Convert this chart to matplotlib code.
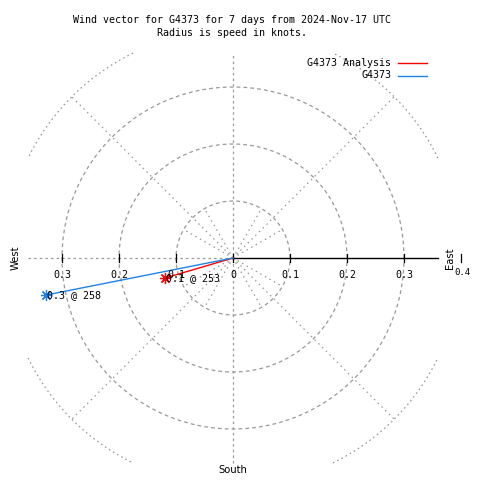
import numpy as np
import matplotlib
matplotlib.use("Agg")
import matplotlib.pyplot as plt

# wind vectors: name, speed (knots), direction (degrees, compass)
names = ["G4373 Analysis", "G4373"]
speeds = [0.124, 0.334]
directions = [253.6, 258.8]
labels = ["0.1 @ 253", "0.3 @ 258"]
colors = ["#ff0000", "#1e82e6"]

rings = [0.1, 0.2, 0.3, 0.4]
tick_vals = [-0.3, -0.2, -0.1, 0.0, 0.1, 0.2, 0.3]
tick_text = ["0.3", "0.2", "0.1", "0", "0.1", "0.2", "0.3"]
box = 0.36

scale = 570.0  # pixels per knot
cx, cy = 233, 258

fig = plt.figure(figsize=(4.8, 4.8), dpi=100)
ax = fig.add_axes([0, 0, 1, 1])
ax.set_xlim(-cx / scale, (480 - cx) / scale)
ax.set_ylim(-(480 - cy) / scale, cy / scale)
ax.axis("off")

grey = "#999999"
mono = "DejaVu Sans Mono"
fs = 7.2

# rings (clipped to the square plot box)
t = np.linspace(0, 2 * np.pi, 721)
for r in rings:
    x = r * np.cos(t)
    y = r * np.sin(t)
    m = (np.abs(x) <= box) & (np.abs(y) <= box)
    x = np.where(m, x, np.nan)
    y = np.where(m, y, np.nan)
    dash = (3, 2.5) if r < 0.35 else (1.3, 2.5)
    ax.plot(x, y, color=grey, lw=0.9, dashes=dash)

# spokes
for a in [45, 135, 225, 315]:
    ax.plot([0, 0.4 * np.cos(np.radians(a))], [0, 0.4 * np.sin(np.radians(a))],
            color=grey, lw=0.9, dashes=(1.2, 3))
for a in [30, 60, 120, 150, 210, 240, 300, 330]:
    ax.plot([0, 0.1 * np.cos(np.radians(a))], [0, 0.1 * np.sin(np.radians(a))],
            color=grey, lw=0.9, dashes=(1.2, 3))
ax.plot([0, 0], [-box, box], color=grey, lw=0.9, dashes=(2, 2.5))
ax.plot([-box, 0], [0, 0], color=grey, lw=0.9, dashes=(2, 2.5))
ax.plot([0, box], [0, 0], color="black", lw=1.0)

# ticks on horizontal axis
for v in tick_vals + [0.4]:
    ax.plot([v, v], [-0.007, 0.007], color="black", lw=0.9)
for v, s in zip(tick_vals, tick_text):
    ax.text(v, -0.029, s, ha="center", va="center", fontsize=fs, family=mono)
ax.text(0.403, -0.025, "0.4", ha="center", va="center", fontsize=6.5, family=mono)

ax.text(0.381, 0.0, "East", rotation=90, ha="center", va="center", fontsize=fs)
ax.text(-0.382, 0.0, "West", rotation=90, ha="center", va="center", fontsize=fs)
ax.text(0.0, -0.372, "South", ha="center", va="center", fontsize=fs)

# vectors
for n, sp, d, lab, c in zip(names, speeds, directions, labels, colors):
    ex = sp * np.sin(np.radians(d))
    ey = sp * np.cos(np.radians(d))
    ax.plot([0, ex], [0, ey], color=c, lw=1.0)
    ax.plot([ex], [ey], marker=(8, 2, 0), ms=8, mew=0.9, color=c)
    ax.text(ex + 0.002, ey, lab, ha="left", va="center", fontsize=fs, family=mono)

# legend
for i, (n, c) in enumerate(zip(names, colors)):
    py = 63 + 12.5 * i
    yd = (cy - py) / scale
    ax.text((391 - cx) / scale, yd, n, ha="right", va="center", fontsize=fs, family=mono)
    ax.plot([(398 - cx) / scale, (427 - cx) / scale], [yd, yd], color=c, lw=1.0)

fig.text(0.484, 1 - 20 / 480, "Wind vector for G4373 for 7 days from 2024-Nov-17 UTC",
         ha="center", va="center", fontsize=fs, family=mono)
fig.text(0.484, 1 - 33 / 480, "Radius is speed in knots.",
         ha="center", va="center", fontsize=fs, family=mono)

fig.savefig("out.png", dpi=100)
